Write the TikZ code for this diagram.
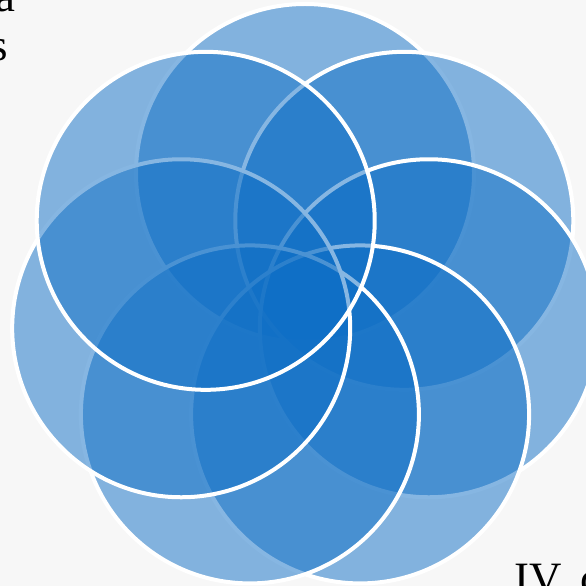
\documentclass[tikz,border=0pt]{standalone}
\usepackage{fontspec}
\setmainfont{Liberation Serif}
\definecolor{flower}{RGB}{15,111,198}
\definecolor{paper}{RGB}{247,247,247}

\begin{document}
\begin{tikzpicture}[x=1bp,y=-1bp,
  petal/.style={circle,draw=white,line width=4bp,fill=flower,fill opacity=.5,minimum size=338bp,inner sep=0pt},
  lbl/.style={font=\fontsize{45}{54}\selectfont,inner sep=0pt}]
\useasboundingbox (0,0) rectangle (586,586);
\clip (0,0) rectangle (586,586);
\fill[paper] (0,0) rectangle (586,586);
\coordinate (mid) at (305,300);
% seven petals, clockwise from the top
\node[petal] (p1) at ([shift={(-90:127)}]mid) {};
\node[petal] (p2) at ([shift={(-38.571:127)}]mid) {};
\node[petal] (p3) at ([shift={(12.857:127)}]mid) {};
\node[petal] (p4) at ([shift={(64.286:127)}]mid) {};
\node[petal] (p5) at ([shift={(115.714:127)}]mid) {};
\node[petal] (p6) at ([shift={(167.143:127)}]mid) {};
\node[petal] (p7) at ([shift={(218.571:127)}]mid) {};
% cut-off text at the corners
\node[lbl,anchor=base east] (ta) at (16,12) {a};
\node[lbl,anchor=base east] (tb) at (8,61) {s};
\node[lbl,anchor=base west] (tc) at (514,593) {IV\hspace{19bp}c};
\end{tikzpicture}
\end{document}
